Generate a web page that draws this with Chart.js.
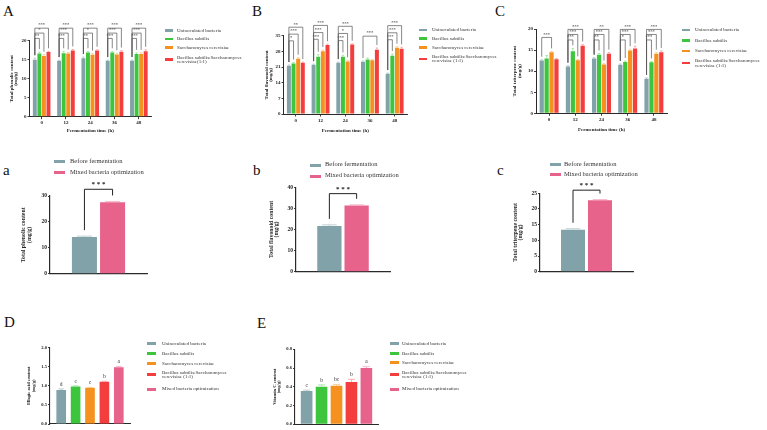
<!DOCTYPE html>
<html><head><meta charset="utf-8">
<script src="https://cdn.jsdelivr.net/npm/chart.js@4"></script>
<style>
html,body{margin:0;padding:0;background:#fff;}
body{width:767px;height:430px;position:relative;overflow:hidden;font-family:"Liberation Serif","Times New Roman",serif;color:#222;}
canvas{position:absolute;}
.t{position:absolute;white-space:nowrap;color:#333;}
.sw{position:absolute;}
</style></head><body>
<script>
const FONT = "'Liberation Serif','Times New Roman',serif";

// ---------- data ----------
const timeLabels = ['0', '12', '24', '36', '48'];
const groupNames = ['Uninoculated bacteria', 'Bacillus subtilis', 'Saccharomyces cerevisiae'];
const mixNameA = 'Bacillus subtilis:Saccharomyces\ncerevisiae(1:1)';
const mixNameB = 'Bacillus subtilis:Saccharomyces\ncerevisiae (1:1)';
const mixNameD = 'Bacillus subtilis:Saccharomyces\ncerevisiae  (1:1)';
const beforeName = 'Before fermentation';
const optName = 'Mixed bacteria optimization';

// A: total phenolic content (mg/g)
const phenolicU  = [15.0, 14.7, 15.4, 14.7, 14.7];
const phenolicB  = [16.6, 16.7, 16.9, 16.9, 16.5];
const phenolicS  = [16.0, 16.6, 16.3, 16.4, 16.5];
const phenolicBS = [17.0, 17.4, 17.4, 17.1, 17.2];
const phenolicErr = [[0.4,0.2,0.3,0.2,0.2],[0.4,0.5,0.3,0.3,0.3],[0.3,0.3,0.3,0.3,0.3],[0.2,0.3,0.2,0.3,0.4]];
const phenolicSig = [
  [0,0,1,'**',20.6],[0,0,2,'*',22.0],[0,0,3,'***',23.3],
  [1,0,1,'***',20.6],[1,0,2,'***',22.0],[1,0,3,'***',23.3],
  [2,0,1,'**',20.6],[2,0,2,'*',22.0],[2,0,3,'***',23.3],
  [3,0,1,'***',20.6],[3,0,2,'***',22.0],[3,0,3,'***',23.3],
  [4,0,1,'***',20.6],[4,0,2,'***',22.0],[4,0,3,'***',23.3]
];

// B: total flavonoid content (mg/g)
const flavonoidU  = [21.6, 22.0, 22.9, 23.4, 18.0];
const flavonoidB  = [22.6, 25.6, 25.6, 24.4, 26.0];
const flavonoidS  = [24.7, 28.1, 23.5, 24.0, 29.6];
const flavonoidBS = [22.9, 30.8, 31.1, 28.7, 29.2];
const flavonoidErr = [[0.3,0.3,0.3,0.3,0.3],[0.4,0.9,0.6,0.6,0.8],[0.5,0.5,0.5,0.4,0.5],[0.3,0.4,0.3,0.8,0.6]];
const flavonoidSig = [
  [0,0,1,'*',32.7],[0,0,2,'***',35.7],[0,0,3,'**',38.8],
  [1,0,1,'***',33.4],[1,0,2,'***',36.4],[1,0,3,'***',39.6],
  [2,0,1,'***',32.8],[2,0,2,'*',36.0],[2,0,3,'***',39.2],
  [3,0,3,'***',34.8],
  [4,0,1,'***',33.2],[4,0,2,'***',36.3],[4,0,3,'***',39.5]
];

// C: total triterpene content (mg/g)
const triterpeneU  = [12.5, 11.1, 13.0, 11.5, 8.2];
const triterpeneB  = [13.0, 14.7, 13.9, 12.2, 12.1];
const triterpeneS  = [14.5, 12.6, 11.6, 14.9, 14.1];
const triterpeneBS = [12.8, 16.0, 14.1, 15.4, 14.5];
const triterpeneErr = [[0.2,0.2,0.2,0.2,0.2],[0.7,0.7,0.3,0.2,0.2],[0.2,0.2,0.2,0.3,0.3],[0.2,0.3,0.3,0.5,0.3]];
const triterpeneSig = [
  [0,0,2,'***',18.0],
  [1,0,1,'***',17.4],[1,0,2,'***',18.7],[1,0,3,'***',19.9],
  [2,0,1,'**',17.4],[2,0,2,'***',18.7],[2,0,3,'**',19.9],
  [3,0,1,'*',17.4],[3,0,2,'***',18.7],[3,0,3,'***',19.9],
  [4,0,1,'***',17.4],[4,0,2,'***',18.7],[4,0,3,'***',19.9]
];

// a, b, c: before fermentation vs mixed bacteria optimization
const phenolicBefore = [14.2],  phenolicOpt = [27.6],  phenolicCmp = [0.3, 0.3],  phenolicCmpSig = [[0,0,1,'* * *',32.6]];
const flavonoidBefore = [21.7], flavonoidOpt = [31.4], flavonoidCmp = [0.5, 0.3], flavonoidCmpSig = [[0,0,1,'* * *',37.0]];
const triterpeneBefore = [13.4], triterpeneOpt = [22.8], triterpeneCmp = [0.3, 0.2], triterpeneCmpSig = [[0,0,1,'* * *',26.0]];

// D: ellagic acid, E: vitamin C (mg/g)
const ellagic = [0.89, 0.98, 0.95, 1.11, 1.49];
const ellagicErr = [0.03, 0.02, 0.01, 0.01, 0.02];
const ellagicLetters = ['d', 'c', 'c', 'b', 'a'];
const vitaminC = [0.355, 0.40, 0.41, 0.45, 0.60];
const vitaminCErr = [0.01, 0.02, 0.015, 0.03, 0.015];
const vitaminCLetters = ['c', 'b', 'bc', 'b', 'a'];

// ---------- styles ----------
const C = {teal:'#80A2A8', green:'#3DC63D', orange:'#F5911E', red:'#F43D3D', pink:'#E8638B'};
const E = {teal:'#AFC4C8', green:'#96E296', orange:'#F9C583', red:'#F99C9C', pink:'#F3A9BF'};
const four = [C.teal, C.green, C.orange, C.red];
const fourE = [E.teal, E.green, E.orange, E.red];
const five = [C.teal, C.green, C.orange, C.red, C.pink];
const fiveE = [E.teal, E.green, E.orange, E.red, E.pink];

function addCanvas(x, y, w, h) {
  const c = document.createElement('canvas');
  c.width = w; c.height = h;
  c.style.left = x + 'px'; c.style.top = y + 'px';
  c.style.width = w + 'px'; c.style.height = h + 'px';
  document.body.appendChild(c);
  return c;
}

function annot(cfg) {
  return {
    id: 'annot',
    afterDatasetsDraw(chart) {
      const ctx = chart.ctx, ys = chart.scales.y, ds = chart.data.datasets;
      const errs = cfg.errors || [];
      const errOf = (i, g) => (errs[i] && errs[i][g]) || 0;
      const topOf = (i, g) => ys.getPixelForValue(ds[i].data[g] + errOf(i, g));
      ctx.save();
      ds.forEach((d, i) => {
        chart.getDatasetMeta(i).data.forEach((bar, j) => {
          const e = errOf(i, j);
          if (!e) return;
          const yT = ys.getPixelForValue(d.data[j] + e);
          const hw = bar.width * 0.3;
          ctx.strokeStyle = cfg.errColors[i];
          ctx.lineWidth = 0.8;
          ctx.beginPath();
          ctx.moveTo(bar.x, bar.y); ctx.lineTo(bar.x, yT);
          ctx.moveTo(bar.x - hw, yT); ctx.lineTo(bar.x + hw, yT);
          ctx.stroke();
        });
      });
      (cfg.brackets || []).forEach(([g, i, j, label, lvl]) => {
        const x1 = chart.getDatasetMeta(i).data[g].x, x2 = chart.getDatasetMeta(j).data[g].x;
        const yl = ys.getPixelForValue(lvl);
        const y1 = topOf(i, g) - cfg.gap, y2 = topOf(j, g) - cfg.gap;
        ctx.strokeStyle = cfg.bColor; ctx.lineWidth = cfg.bWidth;
        ctx.beginPath();
        ctx.moveTo(x1, y1); ctx.lineTo(x1, yl); ctx.lineTo(x2, yl); ctx.lineTo(x2, y2);
        ctx.stroke();
        ctx.fillStyle = cfg.bColor; ctx.font = cfg.bFont;
        ctx.textAlign = 'center'; ctx.textBaseline = 'bottom';
        ctx.fillText(label, (x1 + x2) / 2, yl - cfg.bLabelGap);
      });
      (cfg.letters || []).forEach((lab, i) => {
        const bar = chart.getDatasetMeta(i).data[0];
        ctx.fillStyle = '#333'; ctx.font = cfg.lFont;
        ctx.textAlign = 'center'; ctx.textBaseline = 'bottom';
        ctx.fillText(lab, bar.x, topOf(i, 0) - 2);
      });
      ctx.restore();
    }
  };
}

function makeChart(o) {
  const [cx, cy, cw, ch] = o.canvas;
  const [l, t, r, b] = o.plot;
  const cv = addCanvas(cx, cy, cw, ch);
  const tf = o.yTitleFont;
  const padLeft = Math.max(0, o.yTitleX - tf.size * tf.lh / 2 - cx);
  const W = l - cx - padLeft, H = cy + ch - b;
  const axisCol = '#2a2a2a';
  return new Chart(cv, {
    type: 'bar',
    data: {
      labels: o.labels,
      datasets: o.datasets.map(d => ({label: d.label, data: d.data, backgroundColor: d.color,
        borderWidth: 0, categoryPercentage: o.catPct, barPercentage: o.barPct}))
    },
    options: {
      responsive: false, animation: false, devicePixelRatio: 1,
      layout: {padding: {left: padLeft, top: t - cy, right: cx + cw - r, bottom: 0}},
      plugins: {legend: {display: false}, tooltip: {enabled: false}},
      scales: {
        x: {
          offset: true,
          grid: {display: !!o.xTicks, drawOnChartArea: false, drawTicks: true, tickLength: 2.5, offset: false, color: axisCol, lineWidth: 0.9},
          border: {display: true, color: axisCol, width: o.axisW || 1},
          ticks: {display: !!o.xTicks, font: {family: FONT, size: o.tickSize, weight: 'bold'}, color: '#222', padding: 1, maxRotation: 0, autoSkip: false},
          title: {display: !!o.xTitle, text: o.xTitle || '', font: {family: FONT, size: o.tickSize, weight: 'bold', lineHeight: 1.2}, color: '#222', padding: 0},
          afterFit(s) { s.height = H; }
        },
        y: {
          min: o.yMin, max: o.yMax,
          grid: {display: true, drawOnChartArea: false, drawTicks: true, tickLength: 2, color: axisCol, lineWidth: 0.9},
          border: {display: true, color: axisCol, width: o.axisW || 1},
          ticks: {stepSize: o.step, autoSkip: false, font: {family: FONT, size: o.tickSize, weight: 'bold'}, color: '#222', padding: 1,
            callback: v => o.fmt ? v.toFixed(o.fmt) : String(v)},
          title: {display: true, text: o.yTitle, font: {family: FONT, size: tf.size, weight: 'bold', lineHeight: tf.lh}, color: '#222', padding: 0},
          afterFit(s) { s.width = W; }
        }
      }
    },
    plugins: [annot(o.annot)]
  });
}

function text(str, x, y, size, extra) {
  const d = document.createElement('div');
  d.className = 't';
  d.textContent = str;
  d.style.left = x + 'px'; d.style.top = y + 'px';
  d.style.fontSize = size + 'px'; d.style.lineHeight = size + 'px';
  if (extra) Object.assign(d.style, extra);
  document.body.appendChild(d);
  return d;
}
function legend(swX, swW, swH, txX, size, lineGap, items) {
  items.forEach(([name, color, yc]) => {
    const lines = name.split('\n');
    const s = document.createElement('div');
    s.className = 'sw';
    const mid = yc + (lines.length - 1) * lineGap / 2;
    Object.assign(s.style, {left: swX + 'px', top: (mid - swH / 2) + 'px', width: swW + 'px', height: swH + 'px', background: color});
    document.body.appendChild(s);
    lines.forEach((ln, k) => text(ln, txX, yc + k * lineGap - size / 2 - size * 0.05, size));
  });
}

// ---------- panel letters ----------
const letter = (s, x, baseline) => text(s, x, baseline - 12.6, 15, {color: '#111'});
letter('A', 3, 17); letter('B', 252, 17); letter('C', 495, 17);
letter('a', 3, 176); letter('b', 253, 176); letter('c', 497, 176);
letter('D', 4, 328); letter('E', 257, 329);

// ---------- top row ----------
const topCommon = {labels: timeLabels, catPct: 0.75, barPct: 0.86, tickSize: 5, xTicks: true,
  xTitle: 'Fermentation time (h)', yTitleFont: {size: 5, lh: 0.9}};
const topAnnot = {gap: 3, bColor: '#555', bWidth: 0.7, bFont: 'bold 4.5px ' + FONT, bLabelGap: 0.6, errColors: fourE};

makeChart(Object.assign({}, topCommon, {
  canvas: [4, 16, 152, 118], plot: [29.5, 40.7, 151, 116.7], yTitleX: 11.7,
  yMin: 0, yMax: 20, step: 5, yTitle: ['Total phenolic content', '(mg/g)'],
  datasets: [phenolicU, phenolicB, phenolicS, phenolicBS].map((d, i) => ({label: groupNames[i] || 'mix', data: d, color: four[i]})),
  annot: Object.assign({}, topAnnot, {errors: phenolicErr, brackets: phenolicSig})
}));
makeChart(Object.assign({}, topCommon, {
  canvas: [262, 14, 148, 120], plot: [283.5, 35.7, 407, 114], yTitleX: 266.7,
  yMin: 0, yMax: 35, step: 7, yTitle: ['Total flavonoid content', '(mg/g)'],
  datasets: [flavonoidU, flavonoidB, flavonoidS, flavonoidBS].map((d, i) => ({label: groupNames[i] || 'mix', data: d, color: four[i]})),
  annot: Object.assign({}, topAnnot, {errors: flavonoidErr, brackets: flavonoidSig})
}));
makeChart(Object.assign({}, topCommon, {
  canvas: [510, 12, 160, 121], plot: [536, 29, 667, 113.3], yTitleX: 515,
  yMin: 0, yMax: 20, step: 5, yTitle: ['Total triterpene content', '(mg/g)'],
  datasets: [triterpeneU, triterpeneB, triterpeneS, triterpeneBS].map((d, i) => ({label: groupNames[i] || 'mix', data: d, color: four[i]})),
  annot: Object.assign({}, topAnnot, {errors: triterpeneErr, brackets: triterpeneSig})
}));

const legTop = (swX, txX, ys, mix) => legend(swX, 8, 2.6, txX, 5, 4.4, [
  [groupNames[0], C.teal, ys[0]], [groupNames[1], C.green, ys[1]], [groupNames[2], C.orange, ys[2]], [mix, C.red, ys[3]]]);
legTop(165, 177, [30.7, 39, 47.3, 57.3], mixNameA);
legTop(419, 432, [30, 38.5, 47.5, 56.7], mixNameB);
legTop(682, 695, [30, 40.7, 51, 61], mixNameB);

// ---------- middle row ----------
const midCommon = {labels: [''], catPct: 0.58, barPct: 0.89, tickSize: 5.5, xTicks: false, axisW: 1.2,
  yTitleFont: {size: 5.8, lh: 0.9}};
const midAnnot = {gap: 6, bColor: '#222', bWidth: 1, bFont: 'bold 7px ' + FONT, bLabelGap: 1.2, errColors: [E.teal, E.pink]};
const pair = (a, b) => [{label: beforeName, data: a, color: C.teal}, {label: optName, data: b, color: C.pink}];

makeChart(Object.assign({}, midCommon, {
  canvas: [20, 178, 130, 100], plot: [50, 196, 147, 276], yTitleX: 24,
  yMin: 0, yMax: 30, step: 10, yTitle: ['Total phenolic content', '(mg/g)'],
  datasets: pair(phenolicBefore, phenolicOpt),
  annot: Object.assign({}, midAnnot, {errors: [[phenolicCmp[0]], [phenolicCmp[1]]], brackets: phenolicCmpSig})
}));
makeChart(Object.assign({}, midCommon, {
  canvas: [267, 178, 126, 98], plot: [296, 187.3, 390, 274], yTitleX: 271.7,
  yMin: 0, yMax: 40, step: 10, yTitle: ['Total flavonoid content', '(mg/g)'],
  datasets: pair(flavonoidBefore, flavonoidOpt),
  annot: Object.assign({}, midAnnot, {errors: [[flavonoidCmp[0]], [flavonoidCmp[1]]], brackets: flavonoidCmpSig})
}));
makeChart(Object.assign({}, midCommon, {
  canvas: [511, 178, 125, 98], plot: [540, 193.3, 633, 274], yTitleX: 515.7,
  yMin: 0, yMax: 25, step: 5, yTitle: ['Total triterpene content', '(mg/g)'],
  datasets: pair(triterpeneBefore, triterpeneOpt),
  annot: Object.assign({}, midAnnot, {errors: [[triterpeneCmp[0]], [triterpeneCmp[1]]], brackets: triterpeneCmpSig})
}));

const legMid = (swX, txX, ys) => legend(swX, 11, 3, txX, 6.5, 0, [[beforeName, C.teal, ys[0]], [optName, C.pink, ys[1]]]);
legMid(54, 70, [161.7, 172.7]);
legMid(310, 325, [165, 176]);
legMid(550, 564, [164.3, 174.3]);

// ---------- bottom row ----------
const botNames = [groupNames[0], groupNames[1], groupNames[2], 'mix', optName];
const botCommon = {labels: [''], catPct: 0.9, tickSize: 4.6, xTicks: false, axisW: 1.1, fmt: 1,
  yTitleFont: {size: 4.6, lh: 0.9}};
const botAnnot = {errColors: fiveE, lFont: '5.5px ' + FONT};

makeChart(Object.assign({}, botCommon, {
  canvas: [26, 335, 108, 95], plot: [50, 347.7, 130, 424], yTitleX: 29.3, barPct: 0.67,
  yMin: 0, yMax: 2.0, step: 0.5, yTitle: ['Ellagic acid content', '(mg/g)'],
  datasets: ellagic.map((v, i) => ({label: botNames[i], data: [v], color: five[i]})),
  annot: Object.assign({}, botAnnot, {errors: ellagicErr.map(e => [e]), letters: ellagicLetters})
}));
makeChart(Object.assign({}, botCommon, {
  canvas: [271, 338, 110, 92], plot: [295, 349.3, 378, 424.3], yTitleX: 275, barPct: 0.78,
  yMin: 0, yMax: 0.8, step: 0.2, yTitle: ['Vitamin C content', '(mg/g)'],
  datasets: vitaminC.map((v, i) => ({label: botNames[i], data: [v], color: five[i]})),
  annot: Object.assign({}, botAnnot, {errors: vitaminCErr.map(e => [e]), letters: vitaminCLetters})
}));

const legBot = (swX, txX, ys) => legend(swX, 9, 3, txX, 5, 4.6, [
  [groupNames[0], C.teal, ys[0]], [groupNames[1], C.green, ys[1]], [groupNames[2], C.orange, ys[2]],
  [mixNameD, C.red, ys[3]], [optName, C.pink, ys[4]]]);
legBot(147, 162, [343.3, 353.3, 363.3, 372.5, 389]);
legBot(390, 402, [343.3, 353.3, 362.7, 372.3, 389]);
</script>
</body></html>
